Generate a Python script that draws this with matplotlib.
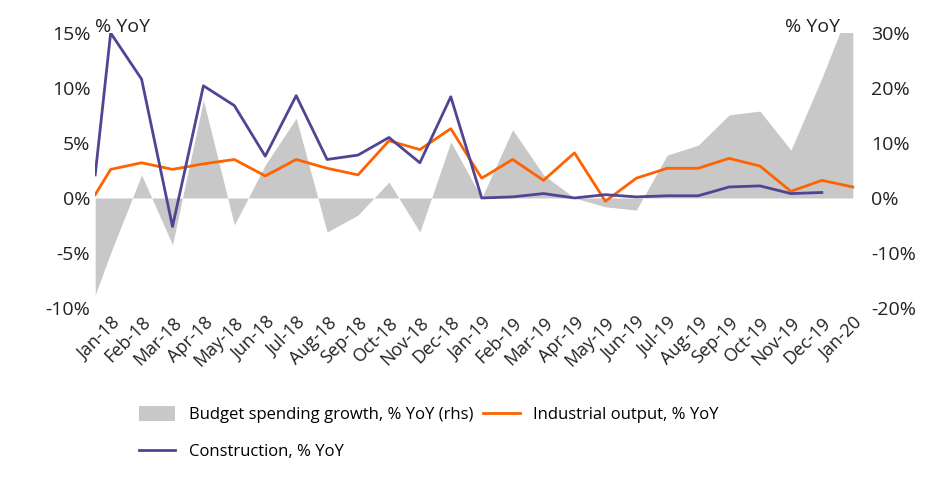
import matplotlib
matplotlib.use("Agg")
import matplotlib.pyplot as plt
from matplotlib.ticker import FuncFormatter

labels = ["Jan-18", "Feb-18", "Mar-18", "Apr-18", "May-18", "Jun-18", "Jul-18", "Aug-18",
          "Sep-18", "Oct-18", "Nov-18", "Dec-18", "Jan-19", "Feb-19", "Mar-19", "Apr-19",
          "May-19", "Jun-19", "Jul-19", "Aug-19", "Sep-19", "Oct-19", "Nov-19", "Dec-19", "Jan-20"]

# first value of each series sits at the left edge of the plot (x = -0.5)
budget = [-17.6, -10, 4.2, -8.5, 17.8, -4.9, 6.0, 14.5, -6.2, -3.1, 2.9, -6.2, 10.2, 0.0,
          12.4, 4.2, 0.0, -1.6, -2.2, 7.8, 9.6, 15.1, 15.8, 8.7, 21.8, 36]
industrial = [0.3, 2.6, 3.2, 2.6, 3.1, 3.5, 2.0, 3.5, 2.7, 2.1, 5.2, 4.4, 6.3, 1.8, 3.5, 1.6,
              4.1, -0.3, 1.8, 2.7, 2.7, 3.6, 2.9, 0.6, 1.6, 1.0]
construction = [2.1, 15.0, 10.8, -2.6, 10.2, 8.4, 3.8, 9.3, 3.5, 3.9, 5.5, 3.2, 9.2, 0.0,
                0.1, 0.4, 0.0, 0.3, 0.1, 0.2, 0.2, 1.0, 1.1, 0.4, 0.5]

xb = [-0.5] + list(range(len(budget) - 1))
xi = [-0.5] + list(range(len(industrial) - 1))
xc = [-0.5] + list(range(len(construction) - 1))

plt.rcParams["font.family"] = ["Open Sans", "DejaVu Sans"]
fig = plt.figure(figsize=(9.52, 4.92), dpi=100)
ax = fig.add_axes([0.1, 0.374, 0.812, 0.559])
ax2 = ax.twinx()
ax.set_zorder(2); ax.patch.set_visible(False)

ax2.fill_between(xb, budget, 0, color="#c8c8c8", lw=0, label="Budget spending growth, % YoY (rhs)")
ax2.set_ylim(-20, 30)
ax.plot(xi, industrial, color="#ff6200", lw=2, label="Industrial output, % YoY")
ax.plot(xc, construction, color="#4f4592", lw=2, label="Construction, % YoY")
ax.set_ylim(-10, 15)
ax.set_xlim(-0.5, 24.5)

pct = FuncFormatter(lambda v, p: f"{v:.0f}%")
ax.set_yticks(range(-10, 16, 5)); ax.yaxis.set_major_formatter(pct)
ax2.set_yticks(range(-20, 31, 10)); ax2.yaxis.set_major_formatter(pct)
ax.set_xticks(range(len(labels)))
ax.set_xticklabels(labels, rotation=45, ha="right", rotation_mode="anchor")
for a in (ax, ax2):
    a.tick_params(length=0, labelsize=14, colors="#222")
    for s in a.spines.values():
        s.set_visible(False)
ax.tick_params(axis="x", labelsize=13, pad=4)
ax2.tick_params(axis="y", pad=2)

fig.text(0.10, 0.935, "% YoY", fontsize=14, color="#222")
fig.text(0.825, 0.935, "% YoY", fontsize=14, color="#222")

h2, l2 = ax2.get_legend_handles_labels()
h1, l1 = ax.get_legend_handles_labels()
handles = [h2[0], h1[1], h1[0]]
names = [l2[0], l1[1], l1[0]]
fig.legend(handles, names, ncol=2, loc="upper left", bbox_to_anchor=(0.13, 0.205),
           frameon=False, fontsize=12, handlelength=2.2, columnspacing=0.6,
           labelspacing=1.2, handleheight=1.0)

fig.savefig("out.png", dpi=100)
